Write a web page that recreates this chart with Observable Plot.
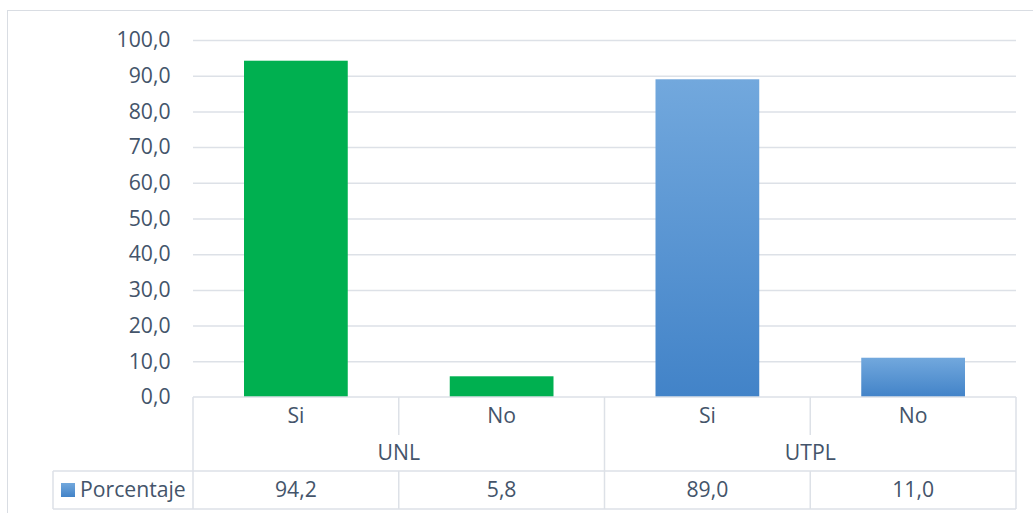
<!DOCTYPE html>
<html><head><meta charset="utf-8">
<script src="https://cdn.jsdelivr.net/npm/d3@7"></script>
<script src="https://cdn.jsdelivr.net/npm/@observablehq/plot@0.6"></script>
<style>
html,body{margin:0;padding:0;background:#fff;overflow:hidden;}
#wrap{position:relative;width:1033px;height:513px;}
#wrap svg{position:absolute;left:0;top:0;}
#border{position:absolute;left:7px;top:10px;width:1100px;height:600px;border:1px solid #d9dde3;box-sizing:border-box;pointer-events:none;}
</style></head><body><div id="wrap"><div id="border"></div></div>
<script>
const groups = ["UNL", "UNL", "UTPL", "UTPL"];
const categories = ["Si", "No", "Si", "No"];
const values = [94.2, 5.8, 89.0, 11.0];
const seriesName = "Porcentaje";
const yTicks = [0, 10, 20, 30, 40, 50, 60, 70, 80, 90, 100];

const data = values.map((v, i) => ({key: groups[i] + "|" + categories[i], group: groups[i], cat: categories[i], value: v}));
const keys = data.map(d => d.key);

const locale = d3.formatLocale({decimal: ",", thousands: ".", grouping: [3], currency: ["", ""]});
const fmt = locale.format(".1f");

const FONT = "'Open Sans', sans-serif";
const FS = 21.2;
const TXT = "#44546A";
const LINE = "#dde1e7";

function dataTable(index, scales, vals, dims) {
  const x = scales.x;
  const bw = x.bandwidth ? x.bandwidth() : (x(keys[1]) - x(keys[0]));
  const left = dims.marginLeft, right = dims.width - dims.marginRight;
  const top = dims.height - dims.marginBottom;
  const r1 = top + 38, r2 = top + 74, r3 = top + 112;
  const legendLeft = left - 140;
  const g = d3.create("svg:g");
  const line = (x1, y1, x2, y2) => g.append("line").attr("x1", x1).attr("y1", y1).attr("x2", x2).attr("y2", y2)
    .attr("stroke", LINE).attr("stroke-width", 1.5);
  const text = (s, cx, cy, anchor) => g.append("text").attr("x", cx).attr("y", cy).attr("text-anchor", anchor || "middle")
    .attr("dy", "0.35em").attr("fill", TXT).attr("font-family", FONT).attr("font-size", FS).text(s);
  line(left, top, right, top);
  line(legendLeft, r2, right, r2);
  line(legendLeft, r3, right, r3);
  line(legendLeft, r2, legendLeft, r3);
  line(left, top, left, r3);
  data.forEach((d, i) => {
    const x0 = x(d.key);
    const isGroupEnd = i === data.length - 1 || data[i + 1].group !== d.group;
    if (isGroupEnd) line(x0 + bw, top, x0 + bw, r3);
    else { line(x0 + bw, top, x0 + bw, r1); line(x0 + bw, r2, x0 + bw, r3); }
    text(d.cat, x0 + bw / 2, (top + r1) / 2);
    text(fmt(d.value), x0 + bw / 2, (r2 + r3) / 2);
  });
  const groupNames = [...new Set(groups)];
  groupNames.forEach(gn => {
    const ks = data.filter(d => d.group === gn).map(d => d.key);
    const x0 = x(ks[0]), x1 = x(ks[ks.length - 1]) + bw;
    text(gn, (x0 + x1) / 2, (r1 + r2) / 2);
  });
  const cy = (r2 + r3) / 2;
  g.append("rect").attr("x", legendLeft + 8).attr("y", cy - 7).attr("width", 14).attr("height", 14).attr("fill", "url(#blueGrad)");
  text(seriesName, legendLeft + 27, cy, "start");
  return g.node();
}

const chart = Plot.plot({
  width: 1033,
  height: 513,
  marginTop: 40,
  marginBottom: 116,
  marginLeft: 193,
  marginRight: 17,
  style: {fontFamily: FONT, fontSize: FS + "px", color: TXT, background: "transparent"},
  x: {domain: keys, padding: 0, round: false, axis: null},
  y: {domain: [0, 100], ticks: yTicks, tickFormat: fmt, tickSize: 0, tickPadding: 23, label: null},
  color: {domain: ["UNL", "UTPL"], range: ["#00B050", "url(#blueGrad)"]},
  marks: [
    Plot.ruleY(yTicks.filter(t => t > 0), {stroke: LINE, strokeWidth: 1.5}),
    Plot.barY(data, {x: "key", y: "value", fill: "group", insetLeft: 51, insetRight: 51}),
    dataTable
  ]
});

const defs = d3.select(chart).insert("defs", ":first-child");
const lg = defs.append("linearGradient").attr("id", "blueGrad").attr("x1", 0).attr("y1", 0).attr("x2", 0).attr("y2", 1);
lg.append("stop").attr("offset", "0%").attr("stop-color", "#72A8DD");
lg.append("stop").attr("offset", "100%").attr("stop-color", "#4283C8");

document.getElementById("wrap").insertBefore(chart, document.getElementById("border"));
</script>
</body></html>
